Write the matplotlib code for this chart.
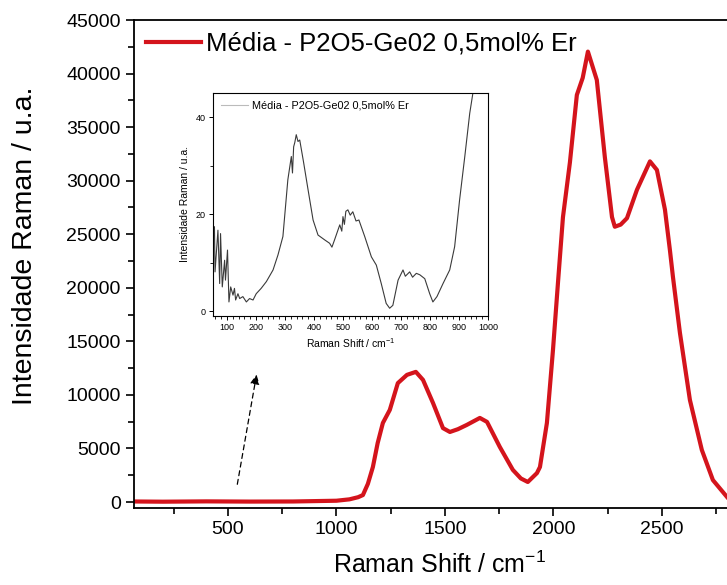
import numpy as np
import matplotlib
matplotlib.use("Agg")
import matplotlib.pyplot as plt
from matplotlib.ticker import MultipleLocator

plt.rcParams['font.family'] = ['Liberation Sans', 'DejaVu Sans']
plt.rcParams['mathtext.fontset'] = 'custom'
plt.rcParams['mathtext.rm'] = 'Liberation Sans'
plt.rcParams['mathtext.it'] = 'Liberation Sans'

# main spectrum
shift = [67, 200, 400, 600, 800, 1000, 1060, 1100, 1122, 1145, 1168, 1190, 1214, 1246,
         1283, 1325, 1366, 1399, 1445, 1491, 1523, 1560, 1601, 1661, 1694, 1753,
         1813, 1850, 1882, 1924, 1938, 1970, 1998, 2021, 2044, 2076, 2108, 2135, 2159,
         2200, 2237, 2270, 2283, 2310, 2339, 2385, 2445, 2477, 2514, 2537, 2551,
         2583, 2629, 2684, 2735, 2800]
intens = [50, 30, 60, 40, 50, 120, 250, 450, 650, 1700, 3270, 5500, 7380, 8600,
          11100, 11870, 12150, 11400, 9250, 6900, 6540, 6800, 7200, 7850, 7480, 5140,
          3000, 2200, 1870, 2700, 3270, 7380, 14200, 20470, 26600, 31700, 38000, 39600, 42050,
          39400, 32200, 26600, 25700, 25900, 26500, 29150, 31800, 31000, 27300, 23500, 21000,
          15800, 9530, 4860, 2050, 470]

# inset spectrum (low wavenumber, noisy)
shift_in = [57, 59, 69, 75, 78, 84, 92, 95, 102, 107, 113, 121, 126, 130, 138,
            144, 155, 167, 178, 190, 201, 218, 236, 259, 276, 293, 310, 322, 326,
            330, 334, 339, 345, 351, 364, 379, 397, 414, 437, 454, 462, 471, 489,
            496, 500, 505, 510, 517, 525, 534, 545, 555, 575, 598, 615, 632, 649,
            661, 672, 690, 707, 715, 730, 740, 753, 765, 782, 799, 810, 824, 845,
            868, 885, 902, 920, 937, 948]
intens_in = [17.4, 8.1, 16.7, 5.7, 16.0, 5.0, 10.5, 6.4, 12.6, 1.9, 5.0, 3.3,
             4.7, 2.3, 3.6, 2.6, 3.0, 1.9, 2.6, 2.3, 3.6, 4.7, 6.1, 8.5, 11.6,
             15.4, 27.1, 31.9, 28.5, 33.9, 34.8, 36.4, 35.0, 35.3, 30.8, 25.3,
             18.8, 15.7, 14.7, 14.0, 13.2, 14.7, 17.8, 16.5, 19.5, 17.9, 20.6,
             20.9, 19.8, 20.5, 18.6, 18.8, 15.4, 11.2, 9.5, 5.7, 1.6, 0.6, 1.2,
             6.4, 8.5, 7.2, 8.1, 7.0, 7.8, 7.5, 6.7, 3.6, 1.9, 3.0, 5.7, 8.5,
             13.3, 22.9, 31.9, 40.8, 45.0]

legend_label = 'Média - P2O5-Ge02 0,5mol% Er'

fig = plt.figure(figsize=(7.27, 5.85), dpi=100)
ax = fig.add_axes([0.1843, 0.1316, 0.8157, 0.8342])

ax.plot(shift, intens, color='#d4141c', lw=3.0, label=legend_label)
ax.set_xlim(67, 2800)
ax.set_ylim(-560, 45000)
ax.spines['right'].set_visible(False)
for s in ['left', 'bottom', 'top']:
    ax.spines[s].set_linewidth(1.3)
ax.xaxis.set_major_locator(MultipleLocator(500))
ax.xaxis.set_minor_locator(MultipleLocator(250))
ax.yaxis.set_major_locator(MultipleLocator(5000))
ax.yaxis.set_minor_locator(MultipleLocator(2500))
ax.tick_params(which='major', direction='out', length=6, width=1.2, labelsize=14)
ax.tick_params(which='minor', direction='out', length=4, width=1.2)
fig.text(440 / 727, 1 - 565 / 585, r'Raman Shift / cm$^{-1}$', fontsize=18,
         ha='center', va='center')
fig.text(25 / 727, 1 - 246 / 585, 'Intensidade Raman / u.a.', fontsize=20.5,
         ha='center', va='center', rotation=90)
ax.legend(loc='upper left', frameon=False, fontsize=18.5, handlelength=2.15,
          handletextpad=0.2, borderaxespad=0.05, bbox_to_anchor=(0.0, 1.0))

ax.annotate('', xy=(634, 12150), xytext=(541, 1400),
            arrowprops=dict(arrowstyle='-|>', linestyle=(0, (4, 3)), lw=0.9,
                            color='black', mutation_scale=14))

# inset
axi = fig.add_axes([213 / 727, 1 - 316 / 585, 275 / 727, 223 / 585])
axi.plot(shift_in, intens_in, color='#3a3a3a', lw=0.8, label=legend_label)
axi.set_xlim(52, 1000)
axi.set_ylim(-1, 45)
axi.xaxis.set_major_locator(MultipleLocator(100))
axi.xaxis.set_minor_locator(MultipleLocator(20))
axi.yaxis.set_major_locator(MultipleLocator(20))
axi.yaxis.set_minor_locator(MultipleLocator(10))
axi.tick_params(which='major', direction='out', length=3, width=0.7, labelsize=6.5, pad=2)
axi.tick_params(which='minor', direction='out', length=2, width=0.6)
for s in axi.spines.values():
    s.set_linewidth(0.8)
axi.set_xlabel(r'Raman Shift / cm$^{-1}$', fontsize=7.5, labelpad=3)
axi.set_ylabel('Intensidade Raman / u.a.', fontsize=7.5, labelpad=4)
leg = axi.legend(loc='upper left', frameon=False, fontsize=7.8, handlelength=2.5,
                 handletextpad=0.4, borderaxespad=0.3)
for h in leg.get_lines():
    h.set_color('#bbbbbb')

fig.savefig('out.png', dpi=100)
